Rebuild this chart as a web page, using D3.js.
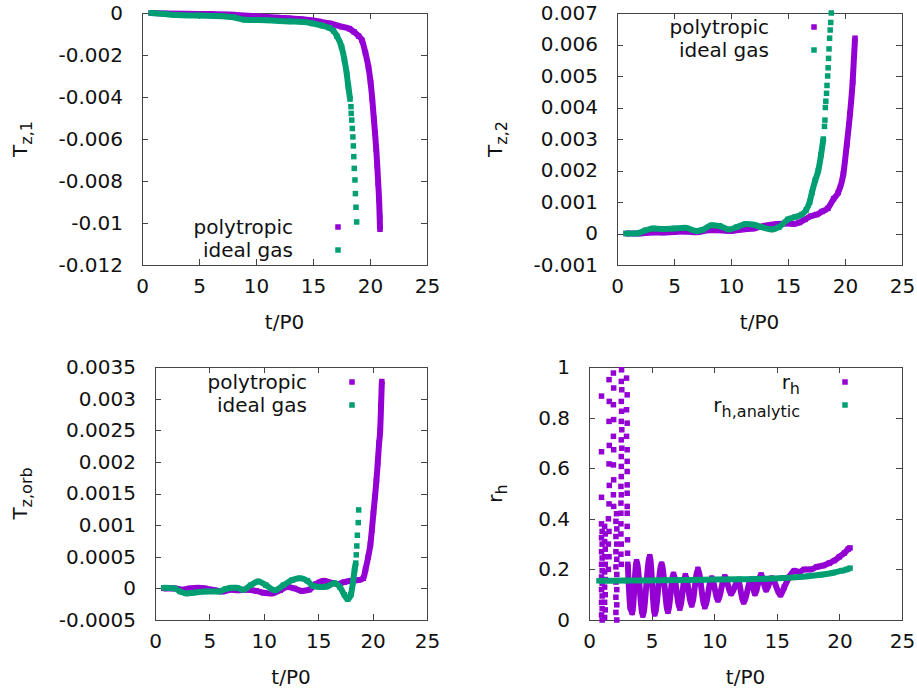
<!DOCTYPE html>
<html><head><meta charset="utf-8">
<script src="https://cdn.jsdelivr.net/npm/d3@7"></script>
<style>
body{margin:0;background:#fff}
svg{display:block}
text{font-family:"DejaVu Sans",sans-serif;fill:#111}
</style>
</head><body>
<svg id="chart" width="917" height="691"></svg>
<script>
// ---------- data ----------
const xTicks = [0, 5, 10, 15, 20, 25];
const legendNames = ["polytropic", "ideal gas"];

// Panel 1: T_z,1
const tz1Ticks = [0, -0.002, -0.004, -0.006, -0.008, -0.01, -0.012];
const tz1Poly = [[0.8,0],[2,-0.00002],[4,-0.00004],[6,-0.00005],[8,-0.00008],[10,-0.00015],[12,-0.00022],[14,-0.0003],[15.5,-0.0004],[16.5,-0.0005],[17.5,-0.00065],[18.2,-0.00075],[18.6,-0.0009],[19.0,-0.0011],[19.3,-0.0013],[19.6,-0.0019],[19.87,-0.0026],[20.05,-0.0033],[20.2,-0.0041],[20.33,-0.005],[20.44,-0.0057],[20.55,-0.0065],[20.64,-0.0073],[20.72,-0.0081],[20.8,-0.0089],[20.85,-0.0097],[20.88,-0.0103]];
const tz1Gas = [[0.8,0],[2,-0.00005],[3,-0.0001],[5,-0.00012],[7,-0.00015],[8,-0.0002],[9,-0.00032],[11,-0.00035],[13,-0.0004],[14,-0.00042],[15,-0.0005],[15.8,-0.0006],[16.4,-0.0007],[16.8,-0.00085],[17.1,-0.0011],[17.5,-0.0016],[17.75,-0.0022],[17.96,-0.0029],[18.1,-0.0035],[18.25,-0.0041]];
const tz1GasTail = [[18.33,-0.00446],[18.35,-0.00478],[18.4,-0.0051],[18.45,-0.0055],[18.5,-0.0059],[18.54,-0.00633],[18.58,-0.00684],[18.62,-0.0074],[18.68,-0.00795],[18.72,-0.0086],[18.77,-0.00925],[18.83,-0.00995]];

// Panel 2: T_z,2
const tz2Ticks = [-0.001, 0, 0.001, 0.002, 0.003, 0.004, 0.005, 0.006, 0.007];
const tz2Poly = [[0.8,0],[2,0],[3,0.00003],[4,0.00003],[5,0.00005],[6,0.00006],[7,0.00004],[8,0.0001],[9,0.0001],[10,0.00008],[11,0.00013],[12,0.00016],[13,0.00025],[14,0.0003],[15,0.00032],[15.5,0.0003],[16,0.00035],[16.5,0.00045],[17,0.00055],[17.5,0.0006],[18,0.0007],[18.5,0.0008],[19,0.0011],[19.4,0.0013],[19.86,0.0019],[20.15,0.0028],[20.44,0.0038],[20.67,0.0048],[20.88,0.0062]];
const tz2Gas = [[0.8,0],[1.7,0],[2.5,0.0001],[3.2,0.00016],[4,0.00014],[5,0.00016],[6,0.00018],[7,0.00008],[7.5,0.00012],[8.3,0.00026],[9,0.00024],[9.8,0.00013],[10.5,0.0002],[11.3,0.0003],[12,0.00028],[12.7,0.0002],[13.6,0.00013],[14.2,0.0002],[15,0.00045],[15.6,0.00052],[16.2,0.0006],[16.6,0.00075],[16.9,0.001],[17.1,0.0013],[17.4,0.0017],[17.66,0.002],[17.9,0.0025],[18.1,0.003]];
const tz2GasTail = [[18.2,0.0034],[18.24,0.0036],[18.28,0.004],[18.32,0.0042],[18.38,0.00445],[18.42,0.0047],[18.48,0.005],[18.52,0.00526],[18.56,0.00556],[18.6,0.00586],[18.65,0.0062],[18.7,0.00646],[18.75,0.0067],[18.8,0.007]];

// Panel 3: T_z,orb
const tzorbTicks = [-0.0005, 0, 0.0005, 0.001, 0.0015, 0.002, 0.0025, 0.003, 0.0035];
const tzorbPoly = [[0.8,0],[1.8,0],[2.5,-0.00002],[3.2,0],[4.0,0.00001],[4.6,0],[5.5,-0.00003],[6.2,-0.00005],[7.0,-0.00002],[7.6,-0.00003],[8.4,-0.00002],[9.3,-0.00004],[10.0,-0.00007],[10.7,-0.00008],[11.5,-0.00003],[12.2,0.00002],[12.8,0],[13.5,-0.00004],[14.2,-0.00002],[14.8,0.00007],[15.5,0.00012],[16.2,0.00009],[16.8,0.00007],[17.4,0.0001],[18.0,0.00012],[18.7,0.00013],[19.15,0.00016],[19.35,0.0003],[19.6,0.0005],[19.8,0.0007],[19.93,0.00092],[20.08,0.0012],[20.22,0.00145],[20.35,0.0017],[20.47,0.00198],[20.6,0.0023],[20.7,0.0025],[20.78,0.0029],[20.85,0.00327]];
const tzorbGas = [[0.8,0.00001],[1.8,0],[2.3,-0.00005],[2.9,-0.00008],[3.5,-0.00007],[4.6,-0.00005],[5.8,-0.00005],[6.5,-0.00001],[7.0,0.00001],[7.5,0.00001],[8.1,-0.00002],[8.8,0.00005],[9.5,0.00011],[10.2,0.00005],[11.0,-0.00003],[11.8,0.00005],[12.6,0.00013],[13.3,0.00016],[14.0,0.00012],[14.5,0.00004],[15.2,0.00002],[15.8,0.00003],[16.5,0.00008],[17.0,0.00002],[17.4,-0.0001],[17.7,-0.00017],[18.0,-0.0001],[18.2,0.0001],[18.35,0.0003],[18.45,0.0004]];
const tzorbGasTail = [[18.5,0.00053],[18.55,0.00067],[18.6,0.00084],[18.68,0.00104],[18.72,0.00124]];

// Panel 4: r_h
const rhTicks = [0, 0.2, 0.4, 0.6, 0.8, 1];
const rhNames = [["r","h"], ["r","h,analytic"]];
const rhEarly = [
 [1.0,0.885],[1.0,0.665],[1.0,0.485],
 [1.0,0.38],[1.05,0.35],[1.0,0.325],[1.05,0.3],[1.0,0.27],[1.05,0.245],[1.0,0.22],[1.05,0.195],[1.0,0.17],[1.05,0.145],[1.0,0.12],[1.05,0.095],[1.0,0.07],[1.05,0.045],[1.0,0.02],[1.05,0.0],
 [1.25,0.37],[1.3,0.34],[1.25,0.31],[1.3,0.28],[1.25,0.25],[1.3,0.22],[1.25,0.19],[1.3,0.16],[1.25,0.13],[1.3,0.1],[1.25,0.07],[1.3,0.04],[1.25,0.01],
 [1.6,0.95],[1.62,0.864],[1.6,0.785],[1.62,0.69],[1.6,0.617],[1.62,0.532],[1.6,0.459],[1.55,0.4],[1.6,0.35],[1.55,0.3],[1.6,0.25],[1.55,0.2],
 [1.95,0.976],[1.97,0.917],[1.95,0.851],[1.97,0.792],[1.95,0.726],[1.97,0.673],[1.95,0.613],[1.97,0.554],[1.95,0.495],[1.97,0.449],
 [2.2,0.42],[2.15,0.39],[2.22,0.36],[2.15,0.33],[2.22,0.3],[2.15,0.27],[2.22,0.24],[2.15,0.21],[2.22,0.18],[2.15,0.15],[2.22,0.12],[2.15,0.09],[2.22,0.06],[2.15,0.03],[2.22,0.0],
 [2.6,0.989],[2.58,0.943],[2.62,0.91],[2.58,0.864],[2.6,0.825],[2.58,0.785],[2.62,0.752],[2.58,0.712],[2.62,0.679],[2.58,0.646],[2.58,0.607],[2.58,0.567],[2.55,0.528],[2.58,0.495],[2.55,0.462],[2.55,0.422],[2.55,0.38],[2.55,0.34],[2.58,0.3],[2.55,0.26],[2.58,0.22],
 [3.0,0.956],[3.05,0.89],[3.0,0.831],[3.05,0.778],[3.0,0.726],[3.05,0.673],[3.05,0.627],[3.05,0.587],[3.05,0.534],[3.05,0.501],[3.05,0.449],[3.05,0.422],[3.05,0.37],[3.08,0.317],[3.08,0.264]
];
const rhPurple = [[3.1,0.22],[3.3,0.05],[3.45,0.03],[3.8,0.23],[4.3,0.02],[4.85,0.25],[5.25,0.025],[5.8,0.22],[6.3,0.035],[6.75,0.18],[7.25,0.047],[7.7,0.175],[8.2,0.06],[8.7,0.2],[9.25,0.053],[9.8,0.165],[10.3,0.08],[10.85,0.17],[11.35,0.105],[11.9,0.155],[12.35,0.072],[12.95,0.16],[13.25,0.105],[13.75,0.178],[14.15,0.12],[14.6,0.165],[15.3,0.1],[15.6,0.13],[16.0,0.17],[16.4,0.195],[16.8,0.19],[17.2,0.2],[17.7,0.2],[18.2,0.21],[18.7,0.215],[19.2,0.225],[19.6,0.235],[20.0,0.25],[20.4,0.265],[20.7,0.28],[20.85,0.285]];
const rhAnalytic = [[0.8,0.155],[3,0.156],[6,0.157],[9,0.159],[12,0.161],[14,0.163],[15.5,0.166],[16.5,0.169],[17.5,0.173],[18.5,0.179],[19.5,0.187],[20.2,0.195],[20.6,0.2],[20.85,0.205]];

// ---------- style & layout ----------
const PURPLE = "#9400d3", GREEN = "#009e73";
const FONT = 20, SUB = 16;
const svg = d3.select("#chart");

const panels = [
 {id:"p1", left:142, right:427, top:13, bottom:265, yDomain:[-0.012,0], yTicks:tz1Ticks,
  ylab:["T","z,1"], ylabX:27,
  series:[{d:tz1Poly,c:PURPLE,band:true},{d:tz1Gas,c:GREEN,band:true},{d:tz1GasTail,c:GREEN,band:false}],
  legend:{textX:293, markX:338, rows:[227,250], names:legendNames.map(n=>[n,null])}},
 {id:"p2", left:617, right:902, top:13, bottom:265, yDomain:[-0.001,0.007], yTicks:tz2Ticks,
  ylab:["T","z,2"], ylabX:502,
  series:[{d:tz2Poly,c:PURPLE,band:true},{d:tz2Gas,c:GREEN,band:true},{d:tz2GasTail,c:GREEN,band:false}],
  legend:{textX:769, markX:814, rows:[27,50], names:legendNames.map(n=>[n,null])}},
 {id:"p3", left:155, right:427, top:367, bottom:620, yDomain:[-0.0005,0.0035], yTicks:tzorbTicks,
  ylab:["T","z,orb"], ylabX:27,
  series:[{d:tzorbPoly,c:PURPLE,band:true},{d:tzorbGas,c:GREEN,band:true},{d:tzorbGasTail,c:GREEN,band:false}],
  legend:{textX:307, markX:352, rows:[382,405], names:legendNames.map(n=>[n,null])}},
 {id:"p4", left:589, right:902, top:367, bottom:620, yDomain:[0,1], yTicks:rhTicks,
  ylab:["r","h"], ylabX:502,
  series:[{d:rhEarly,c:PURPLE,band:false},{d:rhPurple,c:PURPLE,band:true},{d:rhAnalytic,c:GREEN,band:true}],
  legend:{textX:800, markX:845, rows:[382,405], names:rhNames}}
];
const legendColors = [PURPLE, GREEN];

function fmt(v){ return v === 0 ? "0" : String(+v.toPrecision(6)); }

function addSub(sel, main, sub){
  sel.append("tspan").text(main);
  if (sub) sel.append("tspan").attr("font-size", SUB).attr("dy", 5).text(sub);
}

panels.forEach(p => {
  const x = d3.scaleLinear().domain([0,25]).range([p.left, p.right]);
  const y = d3.scaleLinear().domain(p.yDomain).range([p.bottom, p.top]);
  const g = svg.append("g");

  // clip
  svg.append("clipPath").attr("id","clip-"+p.id).append("rect")
    .attr("x", p.left-3).attr("y", p.top-3)
    .attr("width", p.right-p.left+6).attr("height", p.bottom-p.top+6);

  // axes (inward ticks, mirrored)
  const tick = 6;
  const ax = [
    d3.axisBottom(x).tickValues(xTicks).tickSize(-tick).tickPadding(14).tickFormat(fmt),
    d3.axisTop(x).tickValues(xTicks).tickSize(-tick).tickFormat(""),
    d3.axisLeft(y).tickValues(p.yTicks).tickSize(-tick).tickPadding(19).tickFormat(fmt),
    d3.axisRight(y).tickValues(p.yTicks).tickSize(-tick).tickFormat("")
  ];
  const pos = [[0,p.bottom],[0,p.top],[p.left,0],[p.right,0]];
  ax.forEach((a,i) => {
    const ag = g.append("g").attr("transform", `translate(${pos[i][0]},${pos[i][1]})`).call(a);
    ag.select(".domain").remove();
    ag.selectAll("line").attr("stroke","#444").attr("shape-rendering","crispEdges");
    ag.selectAll("text").attr("font-size", FONT).attr("font-family",'"DejaVu Sans",sans-serif').attr("fill","#111");
  });

  // border
  g.append("rect").attr("x", p.left+0.5).attr("y", p.top+0.5)
    .attr("width", p.right-p.left).attr("height", p.bottom-p.top)
    .attr("fill","none").attr("stroke","#444").attr("stroke-width",1).attr("shape-rendering","crispEdges");

  // axis titles
  g.append("text").attr("x", (p.left+p.right)/2).attr("y", p.bottom + 64)
    .attr("text-anchor","middle").attr("font-size", FONT).text("t/P0");
  const yl = g.append("text").attr("text-anchor","middle").attr("font-size", FONT)
    .attr("transform", `translate(${p.ylabX},${(p.top+p.bottom)/2}) rotate(-90)`);
  addSub(yl, p.ylab[0], p.ylab[1]);

  // data
  const dg = g.append("g").attr("clip-path", `url(#clip-${p.id})`);
  const line = d3.line().x(d=>x(d[0])).y(d=>y(d[1])).curve(d3.curveMonotoneX);
  const S = 5.5;
  p.series.forEach(s => {
    if (s.band) {
      dg.append("path").attr("d", line(s.d)).attr("fill","none")
        .attr("stroke", s.c).attr("stroke-width", 6).attr("stroke-linejoin","round");
    }
    dg.append("g").selectAll("rect").data(s.d).join("rect")
      .attr("x", d=>x(d[0])-S/2).attr("y", d=>y(d[1])-S/2)
      .attr("width", S).attr("height", S).attr("fill", s.c);
  });

  // legend
  p.legend.names.forEach((nm,i) => {
    const t = g.append("text").attr("x", p.legend.textX).attr("y", p.legend.rows[i]+7)
      .attr("text-anchor","end").attr("font-size", FONT);
    addSub(t, nm[0], nm[1]);
    g.append("rect").attr("x", p.legend.markX-2.75).attr("y", p.legend.rows[i]-2.75)
      .attr("width", 5.5).attr("height", 5.5).attr("fill", legendColors[i]);
  });
});
</script>
</body></html>
